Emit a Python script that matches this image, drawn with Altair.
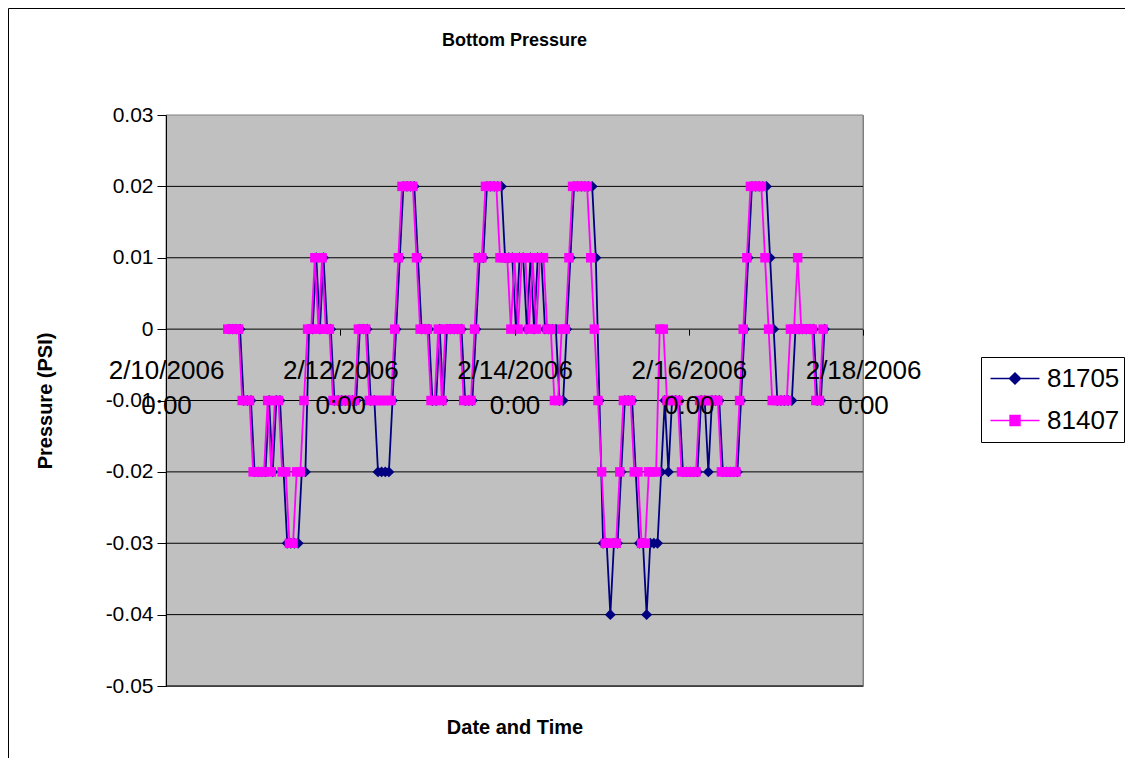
import altair as alt
import pandas as pd

# Hourly readings, hours after 2/10/2006 0:00
hours_81407 = list(range(17, 182))
# logger 81705 samples a little later within each hour
hours_81705 = [h + 0.4 for h in hours_81407]

p81407 = [
    0, 0, 0, 0, -0.01, -0.01, -0.01, -0.02, -0.02, -0.02,
    -0.02, -0.01, -0.02, -0.01, -0.01, -0.02, -0.02, -0.03, -0.03, -0.02,
    -0.02, -0.01, 0, 0, 0.01, 0, 0.01, 0, 0, -0.01,
    -0.01, -0.01, -0.01, -0.01, -0.01, -0.01, 0, 0, 0, -0.01,
    -0.01, -0.01, -0.01, -0.01, -0.01, -0.01, 0, 0.01, 0.02, 0.02,
    0.02, 0.02, 0.01, 0, 0, 0, -0.01, -0.01, 0, -0.01,
    0, 0, 0, 0, 0, -0.01, -0.01, -0.01, 0, 0.01,
    0.01, 0.02, 0.02, 0.02, 0.02, 0.01, 0.01, 0.01, 0, 0.01,
    0, 0.01, 0.01, 0, 0.01, 0, 0.01, 0.01, 0, 0,
    -0.01, -0.01, 0, 0, 0.01, 0.02, 0.02, 0.02, 0.02, 0.02,
    0.01, 0, -0.01, -0.02, -0.03, -0.03, -0.03, -0.03, -0.02, -0.01,
    -0.01, -0.01, -0.02, -0.02, -0.03, -0.03, -0.02, -0.02, -0.02, 0,
    0, -0.01, -0.01, -0.01, -0.01, -0.02, -0.02, -0.02, -0.02, -0.02,
    -0.01, -0.01, -0.01, -0.01, -0.01, -0.01, -0.02, -0.02, -0.02, -0.02,
    -0.02, -0.01, 0, 0.01, 0.02, 0.02, 0.02, 0.02, 0.01, 0,
    -0.01, -0.01, -0.01, -0.01, -0.01, 0, 0, 0.01, 0, 0,
    0, 0, -0.01, -0.01, 0,
]

p81705 = [
    0, 0, 0, 0, -0.01, -0.01, -0.01, -0.02, -0.02, -0.02,
    -0.02, -0.01, -0.02, -0.01, -0.01, -0.02, -0.03, -0.03, -0.03, -0.03,
    -0.02, -0.02, 0, 0, 0.01, 0, 0.01, 0, 0, -0.01,
    -0.01, -0.01, -0.01, -0.01, -0.01, -0.01, 0, 0, 0, -0.01,
    -0.01, -0.02, -0.02, -0.02, -0.02, -0.01, 0, 0.01, 0.02, 0.02,
    0.02, 0.02, 0.01, 0, 0, 0, -0.01, -0.01, 0, -0.01,
    0, 0, 0, 0, 0, -0.01, -0.01, -0.01, 0, 0.01,
    0.01, 0.02, 0.02, 0.02, 0.02, 0.02, 0.01, 0.01, 0.01, 0,
    0.01, 0.01, 0, 0.01, 0, 0.01, 0.01, 0, 0, 0,
    0, -0.01, -0.01, 0, 0.01, 0.02, 0.02, 0.02, 0.02, 0.02,
    0.02, 0.01, -0.01, -0.03, -0.03, -0.04, -0.03, -0.03, -0.02, -0.01,
    -0.01, -0.01, -0.02, -0.03, -0.03, -0.04, -0.03, -0.03, -0.03, -0.02,
    -0.01, -0.02, -0.01, -0.01, -0.01, -0.02, -0.02, -0.02, -0.02, -0.02,
    -0.01, -0.01, -0.02, -0.01, -0.01, -0.01, -0.02, -0.02, -0.02, -0.02,
    -0.02, -0.01, 0, 0.01, 0.02, 0.02, 0.02, 0.02, 0.02, 0.01,
    0, -0.01, -0.01, -0.01, -0.01, -0.01, 0, 0, 0, 0,
    0, 0, -0.01, -0.01, 0,
]

series_names = ["81705", "81407"]
series_colors = ["#000080", "#FF00FF"]
y_ticks = [-0.05, -0.04, -0.03, -0.02, -0.01, 0, 0.01, 0.02, 0.03]
grid_levels = [-0.05, -0.04, -0.03, -0.02, -0.01, 0, 0.01, 0.02]
x_ticks = [0, 48, 96, 144, 192]

df = pd.concat([
    pd.DataFrame({"hour": hours_81705, "psi": p81705, "series": "81705"}),
    pd.DataFrame({"hour": hours_81407, "psi": p81407, "series": "81407"}),
], ignore_index=True)
grid_df = pd.DataFrame({"psi": grid_levels})

FONT = "Liberation Sans"
W, H = 697, 571
PAD = {"left": 158, "top": 107, "right": 262, "bottom": 72}
zero_offset = -(H - H * 0.03 / 0.08)

xscale = alt.Scale(domain=[0, 192], nice=False, zero=False)
yscale = alt.Scale(domain=[-0.05, 0.03], nice=False, zero=False)

x_axis = alt.Axis(
    values=x_ticks, title="Date and Time", offset=zero_offset, grid=False,
    domain=False, tickColor="black", tickSize=6, zindex=1,
    labelExpr="['2/' + (10 + datum.value/24) + '/2006', '0:00']",
    labelFont=FONT, labelFontSize=26, labelColor="black", labelPadding=22,
    labelLineHeight=35, labelFlush=False, labelOverlap=False,
    titleFont=FONT, titleFontSize=20, titleFontWeight="bold", titleColor="black",
    titleY=398, titleBaseline="middle",
)
y_axis = alt.Axis(
    values=y_ticks, title="Pressure (PSI)", grid=False, zindex=1,
    labelExpr="datum.value == 0 ? '0' : (datum.value < 0 ? '-' : '') + format(abs(datum.value), '.2f')",
    labelFont=FONT, labelFontSize=21, labelColor="black", labelPadding=4,
    tickColor="black", tickSize=9, domainColor="black",
    titleFont=FONT, titleFontSize=20, titleFontWeight="bold", titleColor="black",
    titleX=-121, titleY=H / 2, titleAngle=270, titleAlign="center", titleBaseline="middle",
)

X = alt.X("hour:Q", scale=xscale, axis=x_axis)
Y = alt.Y("psi:Q", scale=yscale, axis=y_axis)

base = alt.Chart(df)
one = alt.Chart(pd.DataFrame({"k": [0]}))

plot_bg = one.mark_rect(color="#C0C0C0", stroke="#808080", strokeWidth=1).encode(
    x=alt.value(0), x2=alt.value("width"), y=alt.value(0), y2=alt.value("height"))
border_left = one.mark_rule(color="black", strokeWidth=1).encode(
    x=alt.value(-157.5), y=alt.value(-106.5), y2=alt.value(H + 72))
border_top = one.mark_rule(color="black", strokeWidth=1).encode(
    x=alt.value(-157.5), x2=alt.value(W + 262), y=alt.value(-106.5))
grid = alt.Chart(grid_df).mark_rule(color="black", strokeWidth=1).encode(
    y=Y, x=alt.value(0), x2=alt.value("width"))

navy_line = base.transform_filter("datum.series == '81705'").mark_line(
    color="#000080", strokeWidth=1.8).encode(x=X, y=Y, order="hour:Q")
navy_pts = base.transform_filter("datum.series == '81705'").mark_point(
    shape="diamond", filled=True, size=120, color="#000080", opacity=1).encode(x=X, y=Y)
mag_line = base.transform_filter("datum.series == '81407'").mark_line(
    color="#FF00FF", strokeWidth=1.8).encode(x=X, y=Y, order="hour:Q")
mag_pts = base.transform_filter("datum.series == '81407'").mark_point(
    shape="square", filled=True, size=90, color="#FF00FF", opacity=1).encode(x=X, y=Y)

leg = alt.Legend(
    title=None, orient="none", legendX=815, legendY=242, direction="vertical",
    strokeColor="black", fillColor="white", padding=4,
    labelFont=FONT, labelFontSize=26, labelColor="black", labelOffset=2,
    symbolSize=3364, symbolStrokeWidth=1.5, clipHeight=35, rowPadding=7,
)
shape_paths = [
    "M-0.845,0L0.845,0M0,-0.19L0.19,0L0,0.19L-0.19,0Z",
    "M-0.845,0L0.845,0M-0.17,-0.17L0.17,-0.17L0.17,0.17L-0.17,0.17Z",
]
legend_layer = base.transform_filter("datum.psi > 1").mark_point(filled=True, opacity=1).encode(
    fill=alt.Fill("series:N", scale=alt.Scale(domain=series_names, range=series_colors), legend=leg),
    stroke=alt.Stroke("series:N", scale=alt.Scale(domain=series_names, range=series_colors), legend=leg),
    shape=alt.Shape("series:N", scale=alt.Scale(domain=series_names, range=shape_paths), legend=leg),
)

chart = alt.layer(
    plot_bg, border_left, border_top, grid, navy_line, navy_pts, mag_line, mag_pts, legend_layer
).properties(
    width=W, height=H,
    padding=PAD,
    autosize=alt.AutoSizeParams(type="none"),
    title=alt.TitleParams("Bottom Pressure", font=FONT, fontSize=18, fontWeight="bold",
                          color="black", anchor="middle", offset=0, dy=42),
).configure(background="white").configure_view(fill="#C0C0C0", stroke="#808080", strokeWidth=1)

chart.save("out.html", embed_options={"renderer": "svg", "actions": False})
